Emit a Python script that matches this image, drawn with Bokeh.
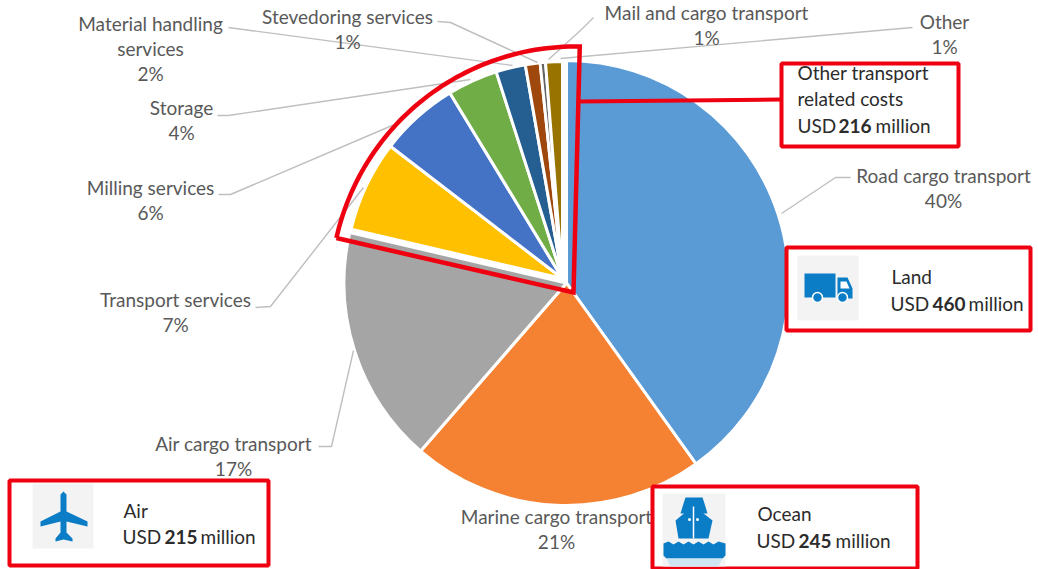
import math
from bokeh.plotting import figure
from bokeh.models import Range1d
from bokeh.core.properties import value
from bokeh.embed import file_html
from bokeh.resources import INLINE

# ---- data ----
categories = ["Road cargo transport", "Marine cargo transport", "Air cargo transport", "Transport services",
              "Milling services", "Storage", "Material handling\nservices", "Stevedoring services",
              "Mail and cargo transport", "Other"]
shares = [40.2, 21.3, 17.3, 6.8, 5.9, 3.75, 2.2, 1.1, 0.4, 1.25]
share_labels = ["40%", "21%", "17%", "7%", "6%", "4%", "2%", "1%", "1%", "1%"]
colors = ["#5B9BD5", "#F58233", "#A5A5A5", "#FFC000", "#4472C4", "#70AD47", "#255E91", "#9E480E", "#636363", "#997300"]
pulled_out = [False, False, False, True, True, True, True, True, True, True]
# label centre in page pixels (x, y of first line)
label_pos = [(943, 175), (556, 516), (233, 443), (175, 299), (150, 187), (181, 107), (150, 23), (347, 16), (706, 12), (944, 21)]
leaders = [
    [(781, 213), (835, 177), (850, 177)],
    [],
    [(318, 446), (331, 446), (353, 350)],
    [(255, 307), (270, 306), (363, 187)],
    [(218, 194), (230, 194), (394, 124)],
    [(217, 115), (228, 115), (470, 79)],
    [(228, 27), (512, 65)],
    [(437, 21), (450, 22), (537, 62)],
    [(593, 17), (581, 29), (548, 59)],
    [(912, 27), (560, 58)],
]
callouts = [
    dict(box=(9, 480, 268, 565), title="Air", tx=123, ty=510, parts=("USD", "215", "million"), xs=(122, 164, 200), y=536),
    dict(box=(652, 486, 917, 568), title="Ocean", tx=757, ty=513, parts=("USD", "245", "million"), xs=(756, 798, 835), y=540),
    dict(box=(786, 247, 1030, 330), title="Land", tx=891, ty=276, parts=("USD", "460", "million"), xs=(890, 932, 968), y=303),
    dict(box=(781, 63, 958, 146), title="Other transport", tx=797, ty=72, parts=("USD", "216", "million"), xs=(797, 838, 875), y=125),
]

FONT = "Lato"
H = 569
Y = lambda py: H - py

p = figure(width=1038, height=569, x_range=Range1d(0, 1038), y_range=Range1d(0, 569),
           x_axis_location=None, y_axis_location=None, toolbar_location=None,
           output_backend="svg", min_border=0, outline_line_color=None)
p.grid.visible = False
p.background_fill_color = "white"

# pie: the small slices are pulled slightly out of the main disc, up and to the left
main_c, main_r = (566, 282.5), 222.5
out_c, out_r = (562, 278), 217
total = sum(shares)
cum = 0.0
starts, ends = [], []
for s in shares:
    starts.append(math.pi / 2 - 2 * math.pi * cum / total)
    cum += s
    ends.append(math.pi / 2 - 2 * math.pi * cum / total)
p.wedge(x=[out_c[0] if o else main_c[0] for o in pulled_out],
        y=[Y(out_c[1]) if o else Y(main_c[1]) for o in pulled_out],
        radius=[out_r if o else main_r for o in pulled_out],
        start_angle=starts, end_angle=ends,
        direction="clock", fill_color=colors, line_color="white", line_width=3)

# leader lines
for pts in leaders:
    if pts:
        p.line([a for a, _ in pts], [Y(b) for _, b in pts], line_color="#BFBFBF", line_width=1.4)

def txt(x, y, s, size="19px", color="#595959", align="center", style="normal"):
    p.text(x=[x], y=[Y(y)], text=[s], text_font=value(FONT), text_font_size=value(size), text_color=color,
           text_align=align, text_baseline="middle", text_font_style=style)

# labels
for name, pct, (lx, ly) in zip(categories, share_labels, label_pos):
    lines = name.split("\n")
    for i, ln in enumerate(lines):
        txt(lx, ly + 25 * i, ln)
    txt(lx, ly + 25 * len(lines), pct)

# callout boxes
RED = "#EE0010"
for c in callouts:
    l, t, r, b = c["box"]
    p.quad(left=[l], right=[r], top=[Y(t)], bottom=[Y(b)], fill_color="white", line_color=RED, line_width=4)

DARK = "#2B2B2B"
for c in callouts:
    txt(c["tx"], c["ty"], c["title"], color=DARK, align="left")
    for s, x, st in zip(c["parts"], c["xs"], ("normal", "bold", "normal")):
        txt(x, c["y"], s, color=DARK, align="left", style=st)
txt(797, 98, "related costs", color=DARK, align="left")

# highlighted sector outline
ax, ay, AR = 575, 291, 245
a0, a1 = math.radians(167.4), math.radians(89)
arc = [(ax + AR * math.cos(a0 + (a1 - a0) * i / 60), ay - AR * math.sin(a0 + (a1 - a0) * i / 60)) for i in range(61)]
outline = arc + [(573, 292), arc[0]]
p.line([a for a, _ in outline], [Y(b) for _, b in outline], line_color=RED, line_width=4.5, line_join="miter")
p.line([578, 780], [Y(101), Y(99)], line_color=RED, line_width=4)

# icons
ICON = "#0B7CC6"
PALE = "#F3F3F3"
def poly(pts, color=ICON):
    p.patch([a for a, _ in pts], [Y(b) for _, b in pts], fill_color=color, line_color=None)
def bg(l, t, r, b):
    poly([(l, t), (r, t), (r, b), (l, b)], PALE)

bg(32, 483, 93, 548)
poly([(63, 491), (66, 494), (66, 511), (87, 521), (87, 526), (66, 521), (66, 532), (72, 538), (72, 541), (63, 539),
      (55, 541), (55, 538), (60, 532), (60, 521), (40, 526), (40, 521), (60, 511), (60, 494)])

bg(662, 493, 725, 566)
poly([(685, 497), (702, 497), (704, 503), (707, 513), (680, 513), (683, 503)])
poly([(693, 505), (712, 520), (708, 538), (678, 538), (675, 520)])
p.line([693, 693], [Y(506), Y(538)], line_color="white", line_width=1.5)
p.scatter(x=[689, 697], y=[Y(519), Y(519)], size=3, marker="circle", fill_color="white", line_color=None)
poly([(663, 543), (668, 541), (673, 544), (678, 541), (683, 544), (688, 541), (693, 544), (698, 541), (703, 544),
      (708, 541), (713, 544), (718, 541), (725, 543), (725, 555), (722, 558), (666, 558), (663, 555)])
poly([(666, 558), (722, 558), (718, 566), (670, 566)], "#CFE5F4")

bg(797, 255, 858, 320)
poly([(804, 273), (835, 273), (835, 297), (804, 297)])
poly([(837, 277), (847, 277), (852, 288), (852, 298), (837, 298)])
poly([(840, 281), (846, 281), (849, 288), (840, 288)], "white")
p.scatter(x=[817, 842], y=[Y(297), Y(297)], size=10, marker="circle", fill_color=ICON, line_color="white", line_width=1.5)

open("out.html", "w").write(file_html(p, INLINE))
